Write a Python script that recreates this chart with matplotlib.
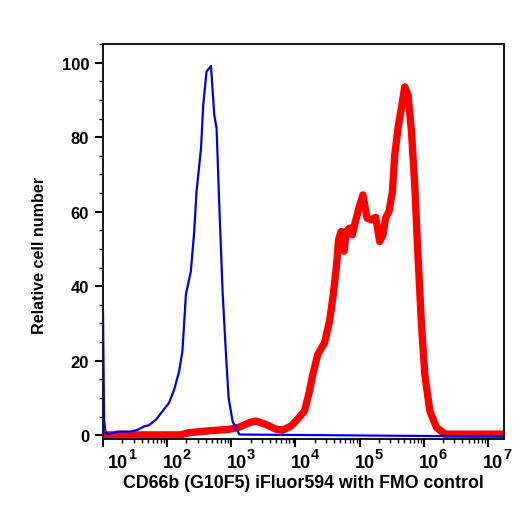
import numpy as np
import matplotlib
matplotlib.use("Agg")
import matplotlib.pyplot as plt
from matplotlib.ticker import FixedLocator, NullFormatter, MultipleLocator

plt.rcParams["font.family"] = ["Liberation Sans", "DejaVu Sans"]
plt.rcParams["font.weight"] = "bold"

# FMO control (blue), intensity vs relative cell number
fmo_x = [10, 10.4, 11.0, 12.4, 16.7, 27, 34, 44, 52, 67, 85, 107, 129, 154, 173,
         196, 234, 264, 287, 337, 365, 411, 482, 542, 589, 649, 731, 826, 908,
         1047, 1334, 1.8e7]
fmo_y = [33.3, 4.0, 0.5, 0.3, 1.0, 1.0, 1.4, 2.4, 2.7, 4.2, 6.5, 8.7, 12.3, 17.2,
         22.6, 37.8, 44.0, 54.7, 65.4, 77.0, 88.7, 97.6, 99.1, 86.0, 82.4, 61.8,
         38.6, 21.6, 10.0, 3.7, 0.2, -0.35]

# CD66b stained sample (red)
cd_x = [10, 160, 221, 453, 931, 1334, 1910, 2432, 3483, 4989, 6339, 8570,
        10250, 13840, 16560, 18620, 22280, 28380, 33950, 38280, 43250, 46990,
        51760, 56960, 62200, 69820, 76920, 83570, 97500, 112700, 130000, 152400,
        177800, 205300, 231200, 254500, 287100, 324400, 352400, 396300, 464500,
        504700, 568900, 642700, 722800, 814700, 920500, 1038000, 1242000,
        1578000, 2128000, 1.8e7]
cd_y = [0.1, 0.1, 0.7, 1.2, 1.6, 2.2, 3.4, 3.8, 2.9, 1.6, 1.4, 2.5,
        3.9, 6.5, 11.9, 16.3, 21.7, 24.8, 30.6, 36.9, 44.9, 52.5,
        54.7, 49.4, 54.7, 55.6, 53.8, 56.5, 61.0, 64.5, 58.3, 57.8,
        58.5, 52.0, 53.8, 58.3, 60.1, 65.4, 75.2, 82.4, 89.5,
        93.5, 91.3, 81.5, 67.2, 47.6, 29.7, 16.3, 6.5,
        2.1, 0.3, 0.3]

x_major = [10, 1e2, 1e3, 1e4, 1e5, 1e6, 1e7]
x_exps = ["1", "2", "3", "4", "5", "6", "7"]
y_major = [0, 20, 40, 60, 80, 100]

fig = plt.figure(figsize=(5.25, 5.1), dpi=100)
ax = fig.add_axes([103 / 525, 1 - 440 / 510, 401 / 525, 395 / 510])

ax.plot(cd_x, cd_y, color="#ff0000", lw=5.3, solid_joinstyle="round", zorder=2)
ax.plot(fmo_x, fmo_y, color="#0000ee", lw=1.6, zorder=3)

ax.set_xscale("log")
ax.set_xlim(10, 10 ** 7.25)
ax.set_ylim(-1, 105)

ax.xaxis.set_major_locator(FixedLocator(x_major))
ax.xaxis.set_major_formatter(NullFormatter())
minors = [m * 10 ** d for d in range(1, 8) for m in range(2, 10)]
ax.xaxis.set_minor_locator(FixedLocator(minors))
ax.xaxis.set_minor_formatter(NullFormatter())
ax.yaxis.set_major_locator(FixedLocator(y_major))
ax.yaxis.set_minor_locator(MultipleLocator(5))

ax.tick_params(axis="both", which="major", direction="out", length=6, width=1.5,
               color="black")
ax.tick_params(axis="both", which="minor", direction="out", length=3, width=1)
ax.tick_params(axis="y", which="major", pad=4, labelsize=12)

for sp in ax.spines.values():
    sp.set_linewidth(1.3)

# decade labels: "10" with a large superscript, sitting right of the tick
px = 72 / fig.dpi
for i, (xv, e) in enumerate(zip(x_major, x_exps)):
    dx = 5 if i == 0 else -4.6
    ax.annotate("10", xy=(xv, 0), xycoords=("data", "axes fraction"),
                xytext=(dx * px, -28.3 * px), textcoords="offset points",
                ha="left", va="baseline", fontsize=13, fontweight="bold")
    ax.annotate(e, xy=(xv, 0), xycoords=("data", "axes fraction"),
                xytext=((dx + 19.8) * px, -18.7 * px), textcoords="offset points",
                ha="left", va="baseline", fontsize=10.5, fontweight="bold")

fig.text(303 / 525, 1 - 488 / 510, "CD66b (G10F5) iFluor594 with FMO control",
         ha="center", va="baseline", fontsize=12.8, fontweight="bold")
fig.text(40 / 525, 1 - 256 / 510, "Relative cell number", rotation=90,
         ha="center", va="center", fontsize=11.6, fontweight="bold")

fig.savefig("out.png", dpi=100)
